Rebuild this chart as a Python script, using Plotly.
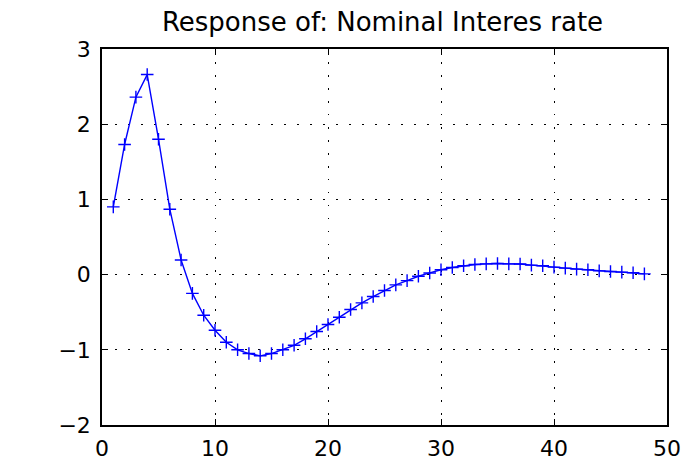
import plotly.graph_objects as go

periods = list(range(1, 49))
response = [0.90, 1.73, 2.36, 2.66, 1.80, 0.87, 0.195, -0.25, -0.54, -0.74,
            -0.90, -1.00, -1.05, -1.08, -1.05, -1.00, -0.94, -0.854, -0.757, -0.664,
            -0.567, -0.465, -0.376, -0.292, -0.212, -0.137, -0.08, -0.022, 0.022, 0.064,
            0.095, 0.117, 0.135, 0.143, 0.148, 0.143, 0.14, 0.126, 0.117, 0.10,
            0.086, 0.073, 0.064, 0.05, 0.042, 0.033, 0.024, 0.01]

x_ticks = [0, 10, 20, 30, 40, 50]
y_ticks = [-2, -1, 0, 1, 2, 3]
y_labels = ["\u22122", "\u22121", "0", "1", "2", "3"]
title_text = "Response of: Nominal Interes rate"

W, H = 698, 464

fig = go.Figure()
fig.add_trace(go.Scatter(
    x=periods, y=response, mode="lines+markers",
    line=dict(color="rgb(0,0,255)", width=1.4),
    marker=dict(symbol="cross-thin", size=9, line=dict(color="rgb(0,0,255)", width=1.4)),
))

font_family = "DejaVu Sans, Verdana, sans-serif"
fig.update_layout(
    width=W, height=H,
    margin=dict(l=102, r=31, t=49, b=39, autoexpand=False),
    paper_bgcolor="white", plot_bgcolor="white",
    showlegend=False,
    font=dict(family=font_family, size=22, color="black"),
    title=dict(text=title_text, x=382.5 / W, xanchor="center", xref="container",
               y=1 - 21.5 / H, yanchor="middle", yref="container",
               font=dict(family=font_family, size=26, color="black")),
)
axis_common = dict(
    showline=True, linecolor="black", linewidth=1.5, mirror="ticks",
    ticks="inside", ticklen=6, tickwidth=1, tickcolor="black",
    showgrid=True, gridcolor="black", gridwidth=1, griddash="1.5px,11.5px",
    zeroline=False, automargin=False,
    tickfont=dict(family=font_family, size=22, color="black"),
)
fig.update_xaxes(range=[0, 50], tickvals=x_ticks, ticklabelstandoff=3, **axis_common)
fig.update_yaxes(range=[-2, 3], tickvals=y_ticks, ticktext=y_labels,
                 ticklabelstandoff=5, **axis_common)

fig.write_html("out.html",
               config={"displayModeBar": False},
               post_script="document.body.style.margin='0';document.body.style.overflow='hidden';")
